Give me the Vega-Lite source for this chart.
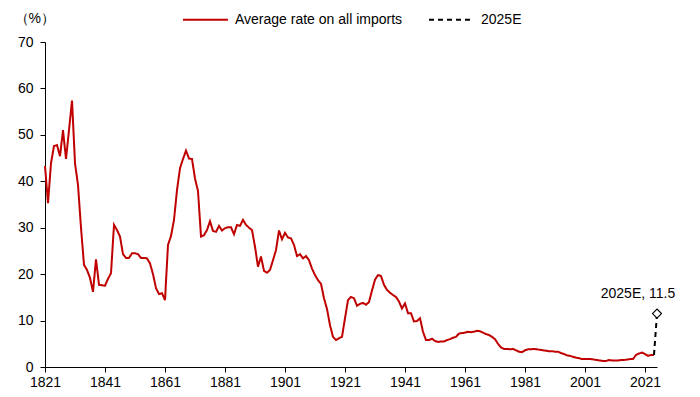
{
  "$schema": "https://vega.github.io/schema/vega-lite/v6.json",
  "width": 612,
  "height": 325,
  "autosize": {"type": "none"},
  "padding": {"left": 45, "top": 42, "right": 43, "bottom": 30},
  "background": "white",
  "config": {
    "view": {"stroke": null},
    "font": "Liberation Sans",
    "axis": {"labelFont": "Liberation Sans", "labelFontSize": 14, "labelColor": "#000", "domainColor": "#000", "tickColor": "#000", "grid": false}
  },
  "datasets": {
    "series": [
      {"year":1821,"value":43.3,"series":"Average rate on all imports"},
      {"year":1822,"value":35.3,"series":"Average rate on all imports"},
      {"year":1823,"value":43.9,"series":"Average rate on all imports"},
      {"year":1824,"value":47.6,"series":"Average rate on all imports"},
      {"year":1825,"value":47.8,"series":"Average rate on all imports"},
      {"year":1826,"value":45.4,"series":"Average rate on all imports"},
      {"year":1827,"value":51.0,"series":"Average rate on all imports"},
      {"year":1828,"value":44.8,"series":"Average rate on all imports"},
      {"year":1829,"value":51.0,"series":"Average rate on all imports"},
      {"year":1830,"value":57.4,"series":"Average rate on all imports"},
      {"year":1831,"value":43.9,"series":"Average rate on all imports"},
      {"year":1832,"value":39.2,"series":"Average rate on all imports"},
      {"year":1833,"value":30.0,"series":"Average rate on all imports"},
      {"year":1834,"value":22.0,"series":"Average rate on all imports"},
      {"year":1835,"value":20.9,"series":"Average rate on all imports"},
      {"year":1836,"value":19.2,"series":"Average rate on all imports"},
      {"year":1837,"value":16.2,"series":"Average rate on all imports"},
      {"year":1838,"value":23.2,"series":"Average rate on all imports"},
      {"year":1839,"value":17.7,"series":"Average rate on all imports"},
      {"year":1840,"value":17.6,"series":"Average rate on all imports"},
      {"year":1841,"value":17.5,"series":"Average rate on all imports"},
      {"year":1842,"value":19.0,"series":"Average rate on all imports"},
      {"year":1843,"value":20.2,"series":"Average rate on all imports"},
      {"year":1844,"value":30.6,"series":"Average rate on all imports"},
      {"year":1845,"value":29.5,"series":"Average rate on all imports"},
      {"year":1846,"value":28.1,"series":"Average rate on all imports"},
      {"year":1847,"value":24.3,"series":"Average rate on all imports"},
      {"year":1848,"value":23.5,"series":"Average rate on all imports"},
      {"year":1849,"value":23.5,"series":"Average rate on all imports"},
      {"year":1850,"value":24.5,"series":"Average rate on all imports"},
      {"year":1851,"value":24.5,"series":"Average rate on all imports"},
      {"year":1852,"value":24.3,"series":"Average rate on all imports"},
      {"year":1853,"value":23.5,"series":"Average rate on all imports"},
      {"year":1854,"value":23.5,"series":"Average rate on all imports"},
      {"year":1855,"value":23.4,"series":"Average rate on all imports"},
      {"year":1856,"value":22.3,"series":"Average rate on all imports"},
      {"year":1857,"value":20.0,"series":"Average rate on all imports"},
      {"year":1858,"value":17.0,"series":"Average rate on all imports"},
      {"year":1859,"value":15.7,"series":"Average rate on all imports"},
      {"year":1860,"value":15.9,"series":"Average rate on all imports"},
      {"year":1861,"value":14.4,"series":"Average rate on all imports"},
      {"year":1862,"value":26.3,"series":"Average rate on all imports"},
      {"year":1863,"value":28.2,"series":"Average rate on all imports"},
      {"year":1864,"value":31.7,"series":"Average rate on all imports"},
      {"year":1865,"value":38.1,"series":"Average rate on all imports"},
      {"year":1866,"value":42.8,"series":"Average rate on all imports"},
      {"year":1867,"value":44.8,"series":"Average rate on all imports"},
      {"year":1868,"value":46.6,"series":"Average rate on all imports"},
      {"year":1869,"value":44.9,"series":"Average rate on all imports"},
      {"year":1870,"value":44.8,"series":"Average rate on all imports"},
      {"year":1871,"value":40.6,"series":"Average rate on all imports"},
      {"year":1872,"value":37.9,"series":"Average rate on all imports"},
      {"year":1873,"value":28.1,"series":"Average rate on all imports"},
      {"year":1874,"value":28.4,"series":"Average rate on all imports"},
      {"year":1875,"value":29.5,"series":"Average rate on all imports"},
      {"year":1876,"value":31.4,"series":"Average rate on all imports"},
      {"year":1877,"value":29.3,"series":"Average rate on all imports"},
      {"year":1878,"value":29.1,"series":"Average rate on all imports"},
      {"year":1879,"value":30.4,"series":"Average rate on all imports"},
      {"year":1880,"value":29.4,"series":"Average rate on all imports"},
      {"year":1881,"value":29.9,"series":"Average rate on all imports"},
      {"year":1882,"value":30.1,"series":"Average rate on all imports"},
      {"year":1883,"value":30.1,"series":"Average rate on all imports"},
      {"year":1884,"value":28.6,"series":"Average rate on all imports"},
      {"year":1885,"value":30.6,"series":"Average rate on all imports"},
      {"year":1886,"value":30.4,"series":"Average rate on all imports"},
      {"year":1887,"value":31.7,"series":"Average rate on all imports"},
      {"year":1888,"value":30.6,"series":"Average rate on all imports"},
      {"year":1889,"value":30.0,"series":"Average rate on all imports"},
      {"year":1890,"value":29.5,"series":"Average rate on all imports"},
      {"year":1891,"value":25.9,"series":"Average rate on all imports"},
      {"year":1892,"value":21.6,"series":"Average rate on all imports"},
      {"year":1893,"value":23.8,"series":"Average rate on all imports"},
      {"year":1894,"value":20.7,"series":"Average rate on all imports"},
      {"year":1895,"value":20.3,"series":"Average rate on all imports"},
      {"year":1896,"value":20.9,"series":"Average rate on all imports"},
      {"year":1897,"value":23.0,"series":"Average rate on all imports"},
      {"year":1898,"value":25.2,"series":"Average rate on all imports"},
      {"year":1899,"value":29.4,"series":"Average rate on all imports"},
      {"year":1900,"value":27.5,"series":"Average rate on all imports"},
      {"year":1901,"value":28.9,"series":"Average rate on all imports"},
      {"year":1902,"value":27.9,"series":"Average rate on all imports"},
      {"year":1903,"value":27.7,"series":"Average rate on all imports"},
      {"year":1904,"value":26.3,"series":"Average rate on all imports"},
      {"year":1905,"value":23.9,"series":"Average rate on all imports"},
      {"year":1906,"value":24.3,"series":"Average rate on all imports"},
      {"year":1907,"value":23.4,"series":"Average rate on all imports"},
      {"year":1908,"value":23.9,"series":"Average rate on all imports"},
      {"year":1909,"value":23.0,"series":"Average rate on all imports"},
      {"year":1910,"value":21.2,"series":"Average rate on all imports"},
      {"year":1911,"value":19.8,"series":"Average rate on all imports"},
      {"year":1912,"value":18.7,"series":"Average rate on all imports"},
      {"year":1913,"value":17.9,"series":"Average rate on all imports"},
      {"year":1914,"value":14.8,"series":"Average rate on all imports"},
      {"year":1915,"value":12.5,"series":"Average rate on all imports"},
      {"year":1916,"value":9.0,"series":"Average rate on all imports"},
      {"year":1917,"value":6.5,"series":"Average rate on all imports"},
      {"year":1918,"value":5.8,"series":"Average rate on all imports"},
      {"year":1919,"value":6.2,"series":"Average rate on all imports"},
      {"year":1920,"value":6.5,"series":"Average rate on all imports"},
      {"year":1921,"value":10.5,"series":"Average rate on all imports"},
      {"year":1922,"value":14.4,"series":"Average rate on all imports"},
      {"year":1923,"value":15.1,"series":"Average rate on all imports"},
      {"year":1924,"value":14.8,"series":"Average rate on all imports"},
      {"year":1925,"value":13.2,"series":"Average rate on all imports"},
      {"year":1926,"value":13.6,"series":"Average rate on all imports"},
      {"year":1927,"value":13.8,"series":"Average rate on all imports"},
      {"year":1928,"value":13.4,"series":"Average rate on all imports"},
      {"year":1929,"value":14.0,"series":"Average rate on all imports"},
      {"year":1930,"value":16.5,"series":"Average rate on all imports"},
      {"year":1931,"value":18.8,"series":"Average rate on all imports"},
      {"year":1932,"value":19.8,"series":"Average rate on all imports"},
      {"year":1933,"value":19.6,"series":"Average rate on all imports"},
      {"year":1934,"value":17.7,"series":"Average rate on all imports"},
      {"year":1935,"value":16.6,"series":"Average rate on all imports"},
      {"year":1936,"value":16.0,"series":"Average rate on all imports"},
      {"year":1937,"value":15.5,"series":"Average rate on all imports"},
      {"year":1938,"value":15.1,"series":"Average rate on all imports"},
      {"year":1939,"value":14.1,"series":"Average rate on all imports"},
      {"year":1940,"value":12.6,"series":"Average rate on all imports"},
      {"year":1941,"value":13.7,"series":"Average rate on all imports"},
      {"year":1942,"value":11.6,"series":"Average rate on all imports"},
      {"year":1943,"value":11.6,"series":"Average rate on all imports"},
      {"year":1944,"value":9.8,"series":"Average rate on all imports"},
      {"year":1945,"value":9.9,"series":"Average rate on all imports"},
      {"year":1946,"value":10.5,"series":"Average rate on all imports"},
      {"year":1947,"value":7.6,"series":"Average rate on all imports"},
      {"year":1948,"value":5.8,"series":"Average rate on all imports"},
      {"year":1949,"value":5.8,"series":"Average rate on all imports"},
      {"year":1950,"value":6.1,"series":"Average rate on all imports"},
      {"year":1951,"value":5.6,"series":"Average rate on all imports"},
      {"year":1952,"value":5.4,"series":"Average rate on all imports"},
      {"year":1953,"value":5.5,"series":"Average rate on all imports"},
      {"year":1954,"value":5.5,"series":"Average rate on all imports"},
      {"year":1955,"value":5.8,"series":"Average rate on all imports"},
      {"year":1956,"value":6.0,"series":"Average rate on all imports"},
      {"year":1957,"value":6.3,"series":"Average rate on all imports"},
      {"year":1958,"value":6.5,"series":"Average rate on all imports"},
      {"year":1959,"value":7.2,"series":"Average rate on all imports"},
      {"year":1960,"value":7.3,"series":"Average rate on all imports"},
      {"year":1961,"value":7.4,"series":"Average rate on all imports"},
      {"year":1962,"value":7.6,"series":"Average rate on all imports"},
      {"year":1963,"value":7.5,"series":"Average rate on all imports"},
      {"year":1964,"value":7.6,"series":"Average rate on all imports"},
      {"year":1965,"value":7.8,"series":"Average rate on all imports"},
      {"year":1966,"value":7.7,"series":"Average rate on all imports"},
      {"year":1967,"value":7.4,"series":"Average rate on all imports"},
      {"year":1968,"value":7.1,"series":"Average rate on all imports"},
      {"year":1969,"value":6.9,"series":"Average rate on all imports"},
      {"year":1970,"value":6.5,"series":"Average rate on all imports"},
      {"year":1971,"value":6.0,"series":"Average rate on all imports"},
      {"year":1972,"value":5.0,"series":"Average rate on all imports"},
      {"year":1973,"value":4.2,"series":"Average rate on all imports"},
      {"year":1974,"value":3.9,"series":"Average rate on all imports"},
      {"year":1975,"value":3.9,"series":"Average rate on all imports"},
      {"year":1976,"value":3.8,"series":"Average rate on all imports"},
      {"year":1977,"value":3.9,"series":"Average rate on all imports"},
      {"year":1978,"value":3.6,"series":"Average rate on all imports"},
      {"year":1979,"value":3.3,"series":"Average rate on all imports"},
      {"year":1980,"value":3.2,"series":"Average rate on all imports"},
      {"year":1981,"value":3.6,"series":"Average rate on all imports"},
      {"year":1982,"value":3.8,"series":"Average rate on all imports"},
      {"year":1983,"value":3.8,"series":"Average rate on all imports"},
      {"year":1984,"value":3.9,"series":"Average rate on all imports"},
      {"year":1985,"value":3.8,"series":"Average rate on all imports"},
      {"year":1986,"value":3.7,"series":"Average rate on all imports"},
      {"year":1987,"value":3.6,"series":"Average rate on all imports"},
      {"year":1988,"value":3.5,"series":"Average rate on all imports"},
      {"year":1989,"value":3.4,"series":"Average rate on all imports"},
      {"year":1990,"value":3.4,"series":"Average rate on all imports"},
      {"year":1991,"value":3.3,"series":"Average rate on all imports"},
      {"year":1992,"value":3.3,"series":"Average rate on all imports"},
      {"year":1993,"value":3.0,"series":"Average rate on all imports"},
      {"year":1994,"value":2.8,"series":"Average rate on all imports"},
      {"year":1995,"value":2.5,"series":"Average rate on all imports"},
      {"year":1996,"value":2.4,"series":"Average rate on all imports"},
      {"year":1997,"value":2.2,"series":"Average rate on all imports"},
      {"year":1998,"value":2.0,"series":"Average rate on all imports"},
      {"year":1999,"value":1.9,"series":"Average rate on all imports"},
      {"year":2000,"value":1.7,"series":"Average rate on all imports"},
      {"year":2001,"value":1.7,"series":"Average rate on all imports"},
      {"year":2002,"value":1.7,"series":"Average rate on all imports"},
      {"year":2003,"value":1.7,"series":"Average rate on all imports"},
      {"year":2004,"value":1.6,"series":"Average rate on all imports"},
      {"year":2005,"value":1.5,"series":"Average rate on all imports"},
      {"year":2006,"value":1.4,"series":"Average rate on all imports"},
      {"year":2007,"value":1.3,"series":"Average rate on all imports"},
      {"year":2008,"value":1.3,"series":"Average rate on all imports"},
      {"year":2009,"value":1.5,"series":"Average rate on all imports"},
      {"year":2010,"value":1.4,"series":"Average rate on all imports"},
      {"year":2011,"value":1.4,"series":"Average rate on all imports"},
      {"year":2012,"value":1.4,"series":"Average rate on all imports"},
      {"year":2013,"value":1.5,"series":"Average rate on all imports"},
      {"year":2014,"value":1.5,"series":"Average rate on all imports"},
      {"year":2015,"value":1.6,"series":"Average rate on all imports"},
      {"year":2016,"value":1.7,"series":"Average rate on all imports"},
      {"year":2017,"value":1.7,"series":"Average rate on all imports"},
      {"year":2018,"value":2.6,"series":"Average rate on all imports"},
      {"year":2019,"value":2.9,"series":"Average rate on all imports"},
      {"year":2020,"value":3.1,"series":"Average rate on all imports"},
      {"year":2021,"value":2.8,"series":"Average rate on all imports"},
      {"year":2022,"value":2.4,"series":"Average rate on all imports"},
      {"year":2023,"value":2.6,"series":"Average rate on all imports"},
      {"year":2024,"value":2.6,"series":"Average rate on all imports"},
      {"year":2024,"value":2.6,"series":"2025E"},
      {"year":2025,"value":11.5,"series":"2025E"}
    ],
    "estimate": [
      {"year":2025,"value":11.5,"label":"2025E, 11.5"}
    ]
  },
  "layer": [
    {
      "data": {"name": "series"},
      "mark": {"type": "line", "strokeWidth": 2},
      "encoding": {
        "x": {
          "field": "year", "type": "quantitative",
          "scale": {"domain": [1821, 2025], "nice": false, "zero": false},
          "axis": {
            "title": null,
            "values": [1821,1831,1841,1851,1861,1871,1881,1891,1901,1911,1921,1931,1941,1951,1961,1971,1981,1991,2001,2011,2021],
            "labelExpr": "(datum.value - 1821) % 20 == 0 ? datum.value : ''",
            "format": "d",
            "tickSize": 5,
            "labelPadding": 3,
            "labelFlush": false,
            "labelOverlap": false
          }
        },
        "y": {
          "field": "value", "type": "quantitative",
          "scale": {"domain": [0, 70], "nice": false},
          "axis": {
            "values": [0,10,20,30,40,50,60,70],
            "title": "（%）",
            "titleAngle": 0,
            "titleFontSize": 14,
            "titleFontWeight": "normal",
            "titleColor": "#000",
            "titleAlign": "left",
            "titleBaseline": "middle",
            "titleX": -31,
            "titleY": -24,
            "tickSize": 5,
            "labelPadding": 7
          }
        },
        "color": {
          "field": "series", "type": "nominal",
          "scale": {"domain": ["Average rate on all imports", "2025E"], "range": ["#C00000", "#000000"]},
          "legend": {
            "title": null,
            "orient": "none",
            "legendX": 137,
            "legendY": -46,
            "direction": "horizontal",
            "symbolType": "stroke",
            "symbolSize": 2025,
            "symbolStrokeWidth": 2,
            "labelFontSize": 14,
            "labelFont": "Liberation Sans",
            "labelColor": "#000",
            "labelLimit": 0,
            "labelOffset": 6,
            "columnPadding": 22
          }
        },
        "strokeDash": {
          "field": "series", "type": "nominal",
          "scale": {"domain": ["Average rate on all imports", "2025E"], "range": [[1, 0], [5, 4]]},
          "legend": null
        }
      }
    },
    {
      "data": {"name": "estimate"},
      "mark": {"type": "point", "shape": "diamond", "filled": false, "stroke": "#000", "strokeWidth": 1.2, "size": 81, "fill": "white", "opacity": 1},
      "encoding": {
        "x": {"field": "year", "type": "quantitative"},
        "y": {"field": "value", "type": "quantitative"}
      }
    },
    {
      "data": {"name": "estimate"},
      "mark": {"type": "text", "font": "Liberation Sans", "fontSize": 14, "color": "#000", "dx": -19, "dy": -20, "align": "center", "baseline": "middle"},
      "encoding": {
        "x": {"field": "year", "type": "quantitative"},
        "y": {"field": "value", "type": "quantitative"},
        "text": {"field": "label"}
      }
    }
  ]
}
